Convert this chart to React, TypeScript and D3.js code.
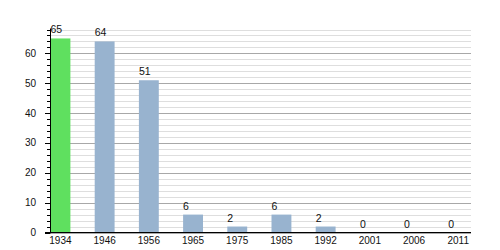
import React from "react";
import * as d3 from "d3";

const years = ["1934", "1946", "1956", "1965", "1975", "1985", "1992", "2001", "2006", "2011"];
const values = [65, 64, 51, 6, 2, 6, 2, 0, 0, 0];
const highlight = ["1934"];
const yTicks = [0, 10, 20, 30, 40, 50, 60];

export default function App() {
  const W = 500, H = 250;
  const left = 50.5, plotRight = 471, bottom = 232.5, top = 29.5;
  const pad = 0.55;
  const step = 44.2;
  const x = d3.scaleBand<string>().domain(years).range([left, left + step * (years.length - pad)]).paddingInner(pad).paddingOuter(0).align(0);
  const y = d3.scaleLinear().domain([0, 68]).range([bottom, top]);
  const minor = d3.range(0, 69, 2);
  const font = "'Liberation Sans', Arial, sans-serif";
  return (
    <svg width={W} height={H} style={{ position: "absolute", left: 0, top: 0, background: "#fff" }} fontFamily={font}>
      {minor.map((v) => (
        <line key={"g" + v} x1={left} x2={plotRight} y1={Math.round(y(v)) + 0.5} y2={Math.round(y(v)) + 0.5}
          stroke={v % 10 === 0 ? "#a8a8a8" : "#dedede"} strokeWidth={1} />
      ))}
      {years.map((yr, i) => {
        const v = values[i];
        const bx = x(yr)!;
        return (
          <g key={yr}>
            <rect x={bx} y={y(v)} width={x.bandwidth()} height={bottom - y(v)}
              fill={highlight.includes(yr) ? "#5fe05f" : "#98b3cf"} />
            <text x={bx} y={y(v) - 5} fontSize={10.5} fill="#111">{v}</text>
            <text x={bx + x.bandwidth() / 2} y={243.5} fontSize={10} textAnchor="middle" fill="#111">{yr}</text>
          </g>
        );
      })}
      {minor.map((v) => (
        <line key={"t" + v} x1={v % 10 === 0 ? 45 : 47} x2={left} y1={Math.round(y(v)) + 0.5} y2={Math.round(y(v)) + 0.5} stroke="#000" />
      ))}
      {yTicks.map((v) => (
        <text key={"l" + v} x={36} y={y(v) + 3.5} fontSize={10} textAnchor="end" fill="#111">{v}</text>
      ))}
      <line x1={left} x2={left} y1={top - 1} y2={bottom} stroke="#000" />
      <line x1={45} x2={plotRight} y1={bottom} y2={bottom} stroke="#000" />
    </svg>
  );
}
